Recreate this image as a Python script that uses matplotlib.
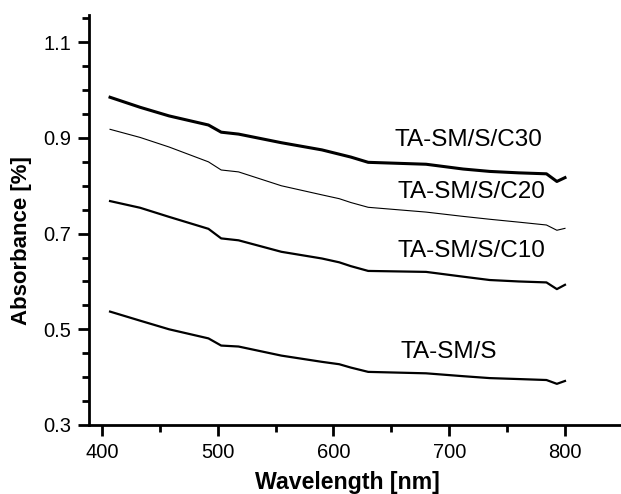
"""
Absorbance spectra for TA-SM/S and carbon-loaded variants (C10, C20, C30).
"""

import matplotlib

matplotlib.use("Agg")
import matplotlib.pyplot as plt
from matplotlib.ticker import MultipleLocator

# data
wavelength = [407, 433, 458, 492, 503, 518, 555, 590, 605, 615, 630,
              680, 712, 735, 760, 784, 793, 800]

abs_c30 = [0.985, 0.964, 0.946, 0.927, 0.912, 0.908, 0.890, 0.875, 0.866,
           0.860, 0.849, 0.845, 0.835, 0.830, 0.827, 0.825, 0.809, 0.817]
abs_c20 = [0.918, 0.901, 0.881, 0.850, 0.833, 0.829, 0.800, 0.781, 0.773,
           0.765, 0.755, 0.745, 0.736, 0.730, 0.724, 0.718, 0.707, 0.711]
abs_c10 = [0.768, 0.754, 0.735, 0.710, 0.690, 0.686, 0.662, 0.648, 0.640,
           0.632, 0.622, 0.620, 0.610, 0.603, 0.600, 0.598, 0.584, 0.593]
abs_s = [0.537, 0.518, 0.500, 0.481, 0.466, 0.464, 0.445, 0.432, 0.427,
         0.420, 0.411, 0.408, 0.402, 0.398, 0.396, 0.394, 0.386, 0.392]

labels = ["TA-SM/S/C30", "TA-SM/S/C20", "TA-SM/S/C10", "TA-SM/S"]
label_x = [717, 719, 719, 700]
label_y = [0.896, 0.787, 0.664, 0.453]

plt.rcParams["font.family"] = ["Liberation Sans", "DejaVu Sans"]

fig = plt.figure(figsize=(6.21, 4.94), dpi=100)
ax = fig.add_axes([0.1433, 0.1397, 0.8567, 0.830])

ax.plot(wavelength, abs_c30, color="black", linewidth=2.2)
ax.plot(wavelength, abs_c20, color="black", linewidth=0.8)
ax.plot(wavelength, abs_c10, color="black", linewidth=1.6)
ax.plot(wavelength, abs_s, color="black", linewidth=1.6)

for txt, x, y in zip(labels, label_x, label_y):
    ax.text(x, y, txt, fontsize=17.5, ha="center", va="center")

ax.set_xlim(388.8, 848.4)
ax.set_ylim(0.3, 1.157)

ax.xaxis.set_major_locator(MultipleLocator(100))
ax.xaxis.set_minor_locator(MultipleLocator(50))
ax.yaxis.set_major_locator(MultipleLocator(0.2, offset=0.1))
ax.yaxis.set_minor_locator(MultipleLocator(0.05))
ax.yaxis.set_major_formatter(plt.FuncFormatter(lambda v, p: f"{v:.1f}"))

ax.spines["top"].set_visible(False)
ax.spines["right"].set_visible(False)
ax.spines["left"].set_linewidth(2)
ax.spines["bottom"].set_linewidth(2)

ax.tick_params(which="major", direction="out", length=8, width=2,
               labelsize=14.5, pad=5)
ax.tick_params(which="minor", direction="out", length=5, width=2)

ax.set_xlabel("Wavelength [nm]", fontsize=16.7, fontweight="bold")
ax.set_ylabel("Absorbance [%]", fontsize=16, fontweight="bold")
ax.xaxis.set_label_coords(0.485, -0.112)
ax.yaxis.set_label_coords(-0.107, 0.45)

fig.savefig("out.png", dpi=100)
